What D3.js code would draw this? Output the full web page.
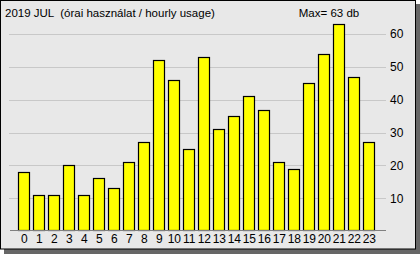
<!DOCTYPE html>
<html>
<head>
<meta charset="utf-8">
<script src="https://cdn.jsdelivr.net/npm/d3@7"></script>
<style>
  body { margin: 0; background: #fff; }
  text { font-family: "Liberation Sans", Arial, sans-serif; white-space: pre; }
</style>
</head>
<body>
<div class="chart"></div>
<script>
var hours = d3.range(0, 24);
var usage = [18, 11, 11, 20, 11, 16, 13, 21, 27, 52, 46, 25, 53, 31, 35, 41, 37, 21, 19, 45, 54, 63, 47, 27];
var yTicks = [10, 20, 30, 40, 50, 60];
var title = "2019 JUL  (órai használat / hourly usage)";
var maxLabel = "Max= " + d3.max(usage) + " db";

var W = 420, H = 254;

var svg = d3.select('.chart')
    .append('svg')
    .attr('width', W)
    .attr('height', H);

// drop shadow + panel
svg.append('rect')
    .attr('x', 4).attr('y', 4)
    .attr('width', W - 4).attr('height', H - 4)
    .attr('fill', '#666');

svg.append('rect')
    .attr('x', 0.5).attr('y', 0.5)
    .attr('width', 415).attr('height', 248.5)
    .attr('fill', '#e8e8e8')
    .attr('stroke', '#000');

var x = d3.scaleBand()
    .domain(hours)
    .range([16.8, 376.8])
    .paddingInner(0.2)
    .paddingOuter(0.1);

var y = d3.scaleLinear()
    .domain([0, 60])
    .range([231, 34]);

// gridlines
svg.selectAll('.grid')
    .data(yTicks)
    .enter()
    .append('line')
    .attr('x1', 9).attr('x2', 386)
    .attr('y1', d => Math.round(y(d)) + 0.5)
    .attr('y2', d => Math.round(y(d)) + 0.5)
    .attr('stroke', '#c8c8c8');

// right axis labels
var yAxis = d3.axisRight(y).tickValues(yTicks).tickSize(0).tickPadding(0);
var ga = svg.append('g')
    .attr('transform', 'translate(390,0)')
    .call(yAxis);
ga.select('.domain').remove();
ga.selectAll('text')
    .attr('font-size', 12)
    .attr('fill', '#000')
    .attr('font-family', '"Liberation Sans", Arial, sans-serif');

// bars
svg.selectAll('.bar')
    .data(usage)
    .enter()
    .append('rect')
    .attr('x', (d, i) => Math.round(x(i)) + 0.5)
    .attr('y', d => Math.round(y(d)) + 0.5)
    .attr('width', Math.round(x.bandwidth()) - 1)
    .attr('height', d => Math.round(y(0)) - Math.round(y(d)) - 1)
    .attr('fill', '#ffff00')
    .attr('stroke', '#000')
    .attr('stroke-width', 1.2);

// baseline
svg.append('line')
    .attr('x1', 10).attr('x2', 386)
    .attr('y1', Math.round(y(0)) - 0.5).attr('y2', Math.round(y(0)) - 0.5)
    .attr('stroke', '#808080');

// bottom axis labels
var xAxis = d3.axisBottom(x).tickSize(0).tickPadding(0);
var gx = svg.append('g')
    .attr('transform', 'translate(0,233)')
    .call(xAxis);
gx.select('.domain').remove();
gx.selectAll('text')
    .attr('font-size', 12)
    .attr('fill', '#000')
    .attr('dy', '0.85em')
    .attr('font-family', '"Liberation Sans", Arial, sans-serif');

svg.append('text')
    .attr('x', 5).attr('y', 17)
    .attr('font-size', 11.5)
    .text(title);

svg.append('text')
    .attr('x', 329).attr('y', 17)
    .attr('text-anchor', 'middle')
    .attr('font-size', 11.5)
    .text(maxLabel);
</script>
</body>
</html>
